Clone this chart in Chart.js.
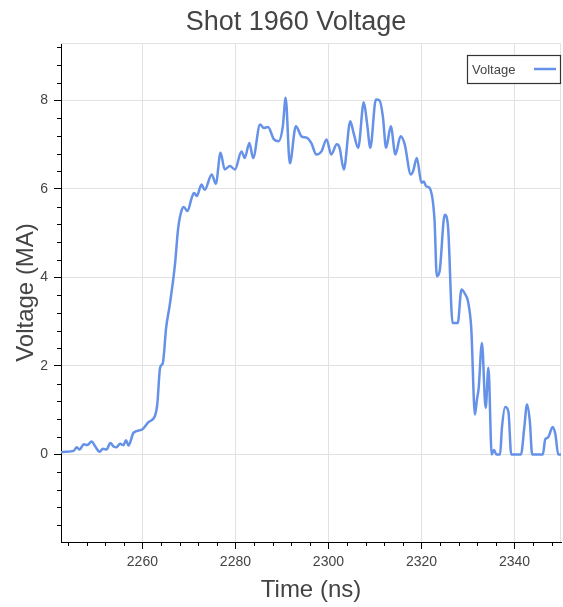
<!DOCTYPE html>
<html>
<head>
<meta charset="utf-8">
<title>Shot 1960 Voltage</title>
<script src="https://cdn.jsdelivr.net/npm/chart.js@4.4.1/dist/chart.umd.min.js"></script>
<style>
  html, body { margin: 0; padding: 0; background: #fff; }
  canvas { display: block; }
</style>
</head>
<body>
<canvas id="voltage" width="563" height="607"></canvas>
<script>
// Shot 1960 waveform, time in ns, voltage in MA
const times = [
  2242.5, 2243.5, 2245.2, 2245.9, 2246.5, 2247.4, 2248.1, 2249.1, 2249.8, 2250.8,
  2251.5, 2252.3, 2253.1, 2253.8, 2254.4, 2255.2, 2255.9, 2256.5, 2257.0, 2258.1,
  2259.9, 2261.3, 2262.7, 2263.2, 2263.8, 2264.4, 2265.1, 2265.9, 2267.0, 2267.7,
  2268.5, 2268.9, 2269.7, 2270.6, 2271.1, 2271.7, 2272.7, 2273.4, 2274.9, 2275.8,
  2276.8, 2277.7, 2278.8, 2279.9, 2281.3, 2282.0, 2283.0, 2283.8, 2285.3, 2286.1,
  2287.0, 2288.3, 2289.3, 2290.2, 2290.8, 2291.7, 2293.0, 2294.2, 2295.3, 2296.3,
  2297.4, 2298.5, 2299.6, 2300.6, 2301.8, 2302.4, 2303.3, 2304.7, 2305.4, 2306.4,
  2307.6, 2308.3, 2309.0, 2310.2, 2311.0, 2311.7, 2312.4, 2313.4, 2314.4, 2315.5,
  2316.4, 2317.7, 2318.2, 2319.0, 2320.0, 2320.5, 2321.0, 2321.7, 2322.8, 2323.3,
  2323.9, 2325.0, 2325.7, 2326.7, 2327.8, 2328.6, 2329.4, 2330.0, 2330.7, 2331.5,
  2331.9, 2332.3, 2333.0, 2333.8, 2334.4, 2335.1, 2335.6, 2336.1, 2336.9, 2337.3,
  2338.0, 2338.7, 2339.3, 2341.4, 2342.1, 2342.7, 2343.3, 2343.8, 2346.1, 2346.6,
  2347.2, 2348.2, 2348.8, 2349.4, 2350.0
];
const volts = [
  0.05, 0.06, 0.08, 0.16, 0.11, 0.23, 0.21, 0.29, 0.19, 0.06,
  0.13, 0.11, 0.26, 0.18, 0.16, 0.24, 0.21, 0.32, 0.20, 0.49,
  0.56, 0.73, 0.87, 1.13, 1.96, 2.07, 2.86, 3.39, 4.29, 5.12,
  5.54, 5.59, 5.50, 5.80, 5.91, 5.84, 6.10, 5.98, 6.33, 6.12,
  6.82, 6.44, 6.52, 6.44, 6.85, 6.70, 7.04, 6.70, 7.46, 7.38,
  7.40, 7.12, 7.08, 7.42, 8.06, 6.58, 7.42, 7.19, 7.16, 7.04,
  6.78, 6.85, 7.12, 6.78, 7.01, 6.93, 6.44, 7.53, 7.27, 6.93,
  7.96, 7.49, 6.93, 8.02, 8.00, 7.64, 6.93, 7.42, 6.78, 7.19,
  7.01, 6.33, 6.40, 6.70, 6.14, 6.17, 6.06, 6.03, 5.31, 4.03,
  4.14, 5.42, 5.16, 2.97, 2.97, 3.73, 3.62, 3.46, 2.86, 0.90,
  1.22, 1.50, 2.52, 1.05, 1.96, 0.00, 0.10, 0.00, 0.00, 0.60,
  1.07, 0.96, 0.00, 0.00, 0.60, 1.13, 0.75, 0.00, 0.00, 0.34,
  0.38, 0.62, 0.45, 0.00, 0.00
];

const xRange = [2242.5, 2350];
const yRange = [-1.98, 9.3];
const xMajor = 20, xMinor = 4;
const yMajor = 2, yMinor = 0.4;

const FONT = '"Liberation Sans", Arial, Helvetica, sans-serif';
const lineColor = '#6592e8';
const textColor = '#444';
const gridColor = '#e2e2e2';

// short unlabelled ticks between the major ones, plus the light frame on top/right
const frameAndMinorTicks = {
  id: 'frameAndMinorTicks',
  beforeDatasetsDraw(chart) {
    const { ctx, chartArea: a } = chart;
    ctx.save();
    ctx.strokeStyle = gridColor;
    ctx.lineWidth = 1;
    ctx.beginPath();
    ctx.moveTo(a.left, a.top + 0.5);
    ctx.lineTo(a.right - 0.5, a.top + 0.5);
    ctx.lineTo(a.right - 0.5, a.bottom);
    ctx.stroke();
    ctx.restore();
  },
  afterDraw(chart) {
    const { ctx } = chart;
    const xs = chart.scales.x, ys = chart.scales.y;
    ctx.save();
    ctx.strokeStyle = '#000';
    ctx.lineWidth = 1;
    ctx.beginPath();
    const ratioX = xMajor / xMinor;
    for (let k = Math.ceil(xs.min / xMinor); k * xMinor <= xs.max; k++) {
      if (k % ratioX === 0) continue;
      const px = Math.round(xs.getPixelForValue(k * xMinor)) + 0.5;
      ctx.moveTo(px, xs.top);
      ctx.lineTo(px, xs.top + 4);
    }
    const ratioY = Math.round(yMajor / yMinor);
    for (let k = Math.ceil(ys.min / yMinor); k * yMinor <= ys.max; k++) {
      if (k % ratioY === 0) continue;
      const py = Math.round(ys.getPixelForValue(k * yMinor)) + 0.5;
      ctx.moveTo(ys.right, py);
      ctx.lineTo(ys.right - 4, py);
    }
    ctx.stroke();
    ctx.restore();
  }
};

// boxed legend in the top right corner of the plot: label first, then the line sample
const boxLegend = {
  id: 'boxLegend',
  afterDraw(chart) {
    const { ctx, chartArea: a } = chart;
    const ds = chart.data.datasets[0];
    const w = 93, h = 28;
    const x0 = a.right - w - 1, y0 = a.top + 12;
    ctx.save();
    ctx.fillStyle = '#fff';
    ctx.fillRect(x0, y0, w, h);
    ctx.strokeStyle = '#333';
    ctx.lineWidth = 1.2;
    ctx.strokeRect(x0 + 0.5, y0 + 0.5, w, h);
    ctx.fillStyle = textColor;
    ctx.font = '13px ' + FONT;
    ctx.textBaseline = 'middle';
    ctx.fillText(ds.label, x0 + 5, y0 + h / 2 + 1);
    ctx.strokeStyle = ds.borderColor;
    ctx.lineWidth = 2.5;
    ctx.beginPath();
    ctx.moveTo(x0 + 67, y0 + h / 2);
    ctx.lineTo(x0 + 89, y0 + h / 2);
    ctx.stroke();
    ctx.restore();
  }
};

new Chart(document.getElementById('voltage').getContext('2d'), {
  type: 'line',
  data: {
    datasets: [{
      label: 'Voltage',
      data: times.map((t, i) => ({ x: t, y: volts[i] })),
      borderColor: lineColor,
      borderWidth: 2.5,
      pointRadius: 0,
      fill: false,
      cubicInterpolationMode: 'monotone'
    }]
  },
  options: {
    responsive: false,
    animation: false,
    layout: {
      padding: { left: 31, right: 2, top: 0, bottom: 0 }
    },
    scales: {
      x: {
        type: 'linear',
        min: xRange[0],
        max: xRange[1],
        afterFit: s => { s.height = 65; },
        border: { color: '#000', width: 1 },
        grid: { color: gridColor, tickColor: '#000', tickLength: 7 },
        ticks: {
          stepSize: xMajor,
          includeBounds: false,
          autoSkip: false,
          maxRotation: 0,
          padding: 5,
          color: textColor,
          font: { family: FONT, size: 14 },
          callback: v => String(v)
        },
        title: {
          display: true,
          text: 'Time (ns)',
          color: textColor,
          font: { family: FONT, size: 24 },
          padding: { top: 0, bottom: 2 }
        }
      },
      y: {
        min: yRange[0],
        max: yRange[1],
        afterFit: s => { s.width = 30; },
        border: { color: '#000', width: 1 },
        grid: { color: gridColor, tickColor: '#000', tickLength: 7 },
        ticks: {
          stepSize: yMajor,
          includeBounds: false,
          padding: 6,
          color: textColor,
          font: { family: FONT, size: 14 },
          callback: v => String(v)
        },
        title: {
          display: true,
          text: 'Voltage (MA)',
          color: textColor,
          font: { family: FONT, size: 24 },
          padding: { top: -19, bottom: 0 }
        }
      }
    },
    plugins: {
      legend: { display: false },
      tooltip: { enabled: false },
      title: {
        display: true,
        text: 'Shot 1960 Voltage',
        color: textColor,
        font: { family: FONT, size: 27, weight: 'normal' },
        padding: { top: 6, bottom: 4.6 }
      }
    }
  },
  plugins: [frameAndMinorTicks, boxLegend]
});
</script>
</body>
</html>
